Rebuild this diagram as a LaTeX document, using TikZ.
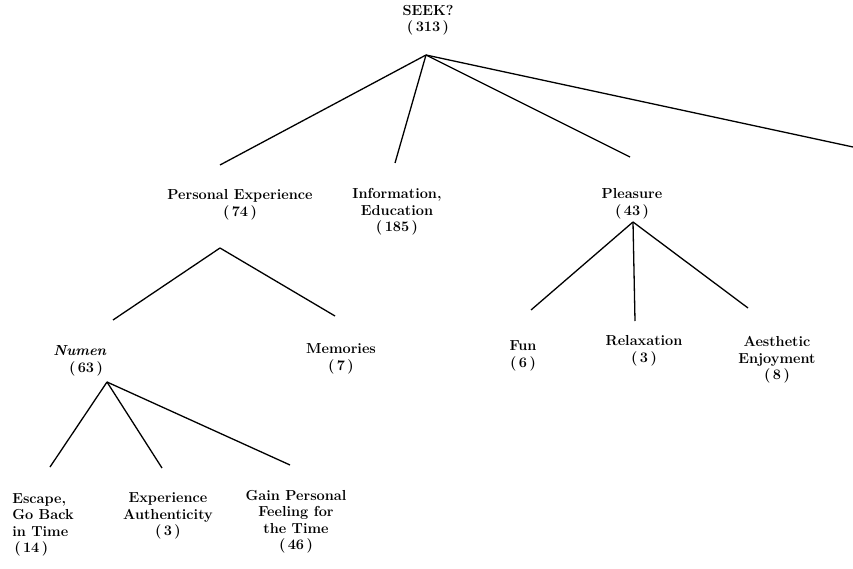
\documentclass[tikz,border=0pt]{standalone}
\begin{document}
\begin{tikzpicture}[x=1pt,y=-1pt,
  lbl/.style={font=\fontsize{14.5}{16.5}\selectfont\bfseries, align=center, inner sep=0pt},
  edge/.style={line width=1.3pt}]
\useasboundingbox (0,0) rectangle (853,569);
% labels
\node[lbl] (seek) at (428,20) {SEEK?\\(\,313\,)};
\node[lbl] (pers) at (240,205) {Personal Experience\\(\,74\,)};
\node[lbl] (info) at (397,212) {Information,\\Education\\(\,185\,)};
\node[lbl] (plea) at (632,204) {Pleasure\\(\,43\,)};
\node[lbl] (numen) at (80,361) {\textit{Numen}\\\hspace*{12pt}(\,63\,)};
\node[lbl] (mem) at (341,359) {Memories\\(\,7\,)};
\node[lbl] (fun) at (523,356) {Fun\\(\,6\,)};
\node[lbl] (relax) at (644,351) {Relaxation\\(\,3\,)};
\node[lbl] (aes) at (777,360) {Aesthetic\\Enjoyment\\(\,8\,)};
\node[lbl, align=left] (esc) at (43,525) {Escape,\\Go Back\\in Time\\\hspace*{2pt}(\,14\,)};
\node[lbl] (auth) at (168,516) {Experience\\Authenticity\\(\,3\,)};
\node[lbl] (gain) at (296,522) {Gain Personal\\Feeling for\\the Time\\(\,46\,)};
% junction points
\coordinate (seekA) at (426,55);
\coordinate (persA) at (220,248);
\coordinate (pleaA) at (633,222);
\coordinate (numA) at (107,382);
% branch ends
\coordinate (persT) at (220,165);
\coordinate (infoT) at (395,163);
\coordinate (pleaT) at (630,157);
\coordinate (offR) at (853,147);
\coordinate (numT) at (113,320);
\coordinate (memT) at (335,316);
\coordinate (funT) at (531,310);
\coordinate (relT) at (635,321);
\coordinate (aesT) at (748,308);
\coordinate (escT) at (50,467);
\coordinate (autT) at (162,468);
\coordinate (gainT) at (290,465);
% connectors
\draw[edge] (seekA) -- (persT);
\draw[edge] (seekA) -- (infoT);
\draw[edge] (seekA) -- (pleaT);
\draw[edge] (seekA) -- (offR);
\draw[edge] (persA) -- (numT);
\draw[edge] (persA) -- (memT);
\draw[edge] (pleaA) -- (funT);
\draw[edge] (pleaA) -- (relT);
\draw[edge] (pleaA) -- (aesT);
\draw[edge] (numA) -- (escT);
\draw[edge] (numA) -- (autT);
\draw[edge] (numA) -- (gainT);
\end{tikzpicture}
\end{document}
